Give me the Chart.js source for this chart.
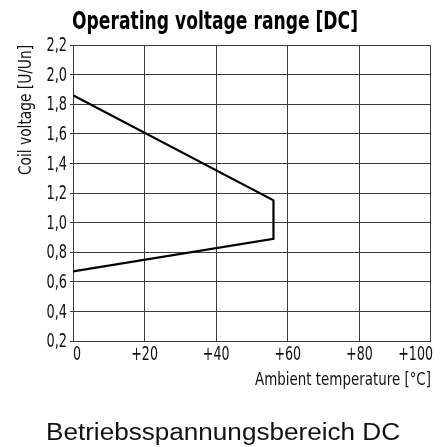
<!DOCTYPE html>
<html><head><meta charset="utf-8">
<script src="https://cdn.jsdelivr.net/npm/chart.js@4"></script>
<style>html,body{margin:0;padding:0;background:#fff}#wrap{width:444px;height:447px}</style>
</head><body><div id="wrap"><canvas id="c" width="444" height="447"></canvas></div>
<script>
const temperature = [0, 56, 56, 0];
const voltage = [1.86, 1.15, 0.89, 0.67];
const xTicks = [0, 20, 40, 60, 80, 100];
const yTicks = [0.2, 0.4, 0.6, 0.8, 1.0, 1.2, 1.4, 1.6, 1.8, 2.0, 2.2];
const titleText = 'Operating voltage range [DC]';
const yTitle = 'Coil voltage [U/Un]';
const xTitle = 'Ambient temperature [°C]';
const bottomText = 'Betriebsspannungsbereich DC';

const COND = "'DejaVu Sans Condensed','DejaVu Sans',sans-serif";
const REG = "'Liberation Sans',Arial,sans-serif";
const points = temperature.map((t, i) => ({x: t, y: voltage[i]}));
const grid = '#3a3a3a';

const fmtX = v => v === 0 ? '0' : '+' + v;
const fmtY = v => v.toFixed(1).replace('.', ',');

function drawText(ctx, text, x, y, font, opts) {
  ctx.font = font;
  const w = ctx.measureText(text).width;
  const sx = opts.width ? opts.width / w : (opts.sx || 1);
  ctx.save();
  ctx.translate(x, y);
  if (opts.rotate) ctx.rotate(opts.rotate);
  ctx.scale(sx, 1);
  ctx.textAlign = opts.align || 'left';
  ctx.textBaseline = opts.baseline || 'alphabetic';
  ctx.fillStyle = opts.color || '#000';
  ctx.fillText(text, 0, 0);
  ctx.restore();
}

const textPlugin = {
  id: 'texts',
  afterDraw(chart) {
    const ctx = chart.ctx;
    const xs = chart.scales.x, ys = chart.scales.y, ca = chart.chartArea;
    drawText(ctx, titleText, ca.left - 1, 29, `bold 25px ${COND}`, { width: 286 });
    ys.ticks.forEach(t => {
      drawText(ctx, fmtY(t.value), ca.left - 6, ys.getPixelForValue(t.value) + 1, `20px ${COND}`, { sx: 0.72, align: 'right', baseline: 'middle', color: '#111' });
    });
    xs.ticks.forEach((t, i) => {
      const last = i === xs.ticks.length - 1;
      const align = i === 0 ? 'left' : (last ? 'right' : 'center');
      const px = xs.getPixelForValue(t.value) + (last ? 2 : 0);
      drawText(ctx, fmtX(t.value), px, 360, `19px ${COND}`, { sx: 0.74, align, color: '#111' });
    });
    drawText(ctx, xTitle, ca.right, 385, `18px ${COND}`, { width: 176, align: 'right', color: '#111' });
    drawText(ctx, yTitle, 31, 110, `17px ${COND}`, { width: 130, align: 'center', rotate: -Math.PI / 2, color: '#111' });
    drawText(ctx, bottomText, 46, 440, `23px ${REG}`, { width: 354, color: '#111' });
  }
};

new Chart(document.getElementById('c'), {
  type: 'scatter',
  data: { datasets: [{ data: points, showLine: true, pointRadius: 0, borderColor: '#000', borderWidth: 2.2, fill: false, tension: 0 }] },
  options: {
    responsive: false, animation: false, devicePixelRatio: 1,
    layout: { padding: { left: 0, right: 11, top: 45, bottom: 0 } },
    plugins: { legend: { display: false }, tooltip: { enabled: false }, title: { display: false } },
    scales: {
      x: { type: 'linear', min: 0, max: 100,
        afterBuildTicks: s => { s.ticks = xTicks.map(v => ({value: v})); },
        ticks: { color: 'rgba(0,0,0,0)' },
        grid: { color: grid, lineWidth: 1, drawTicks: false },
        border: { color: grid, width: 1 },
        afterFit: s => { s.height = 106; }
      },
      y: { type: 'linear', min: 0.2, max: 2.2,
        afterBuildTicks: s => { s.ticks = yTicks.map(v => ({value: v})); },
        ticks: { color: 'rgba(0,0,0,0)' },
        grid: { color: grid, lineWidth: 1, drawTicks: true, tickLength: 3 },
        border: { color: grid, width: 1 },
        afterFit: s => { s.width = 73; }
      }
    }
  },
  plugins: [textPlugin]
});
</script></body></html>
